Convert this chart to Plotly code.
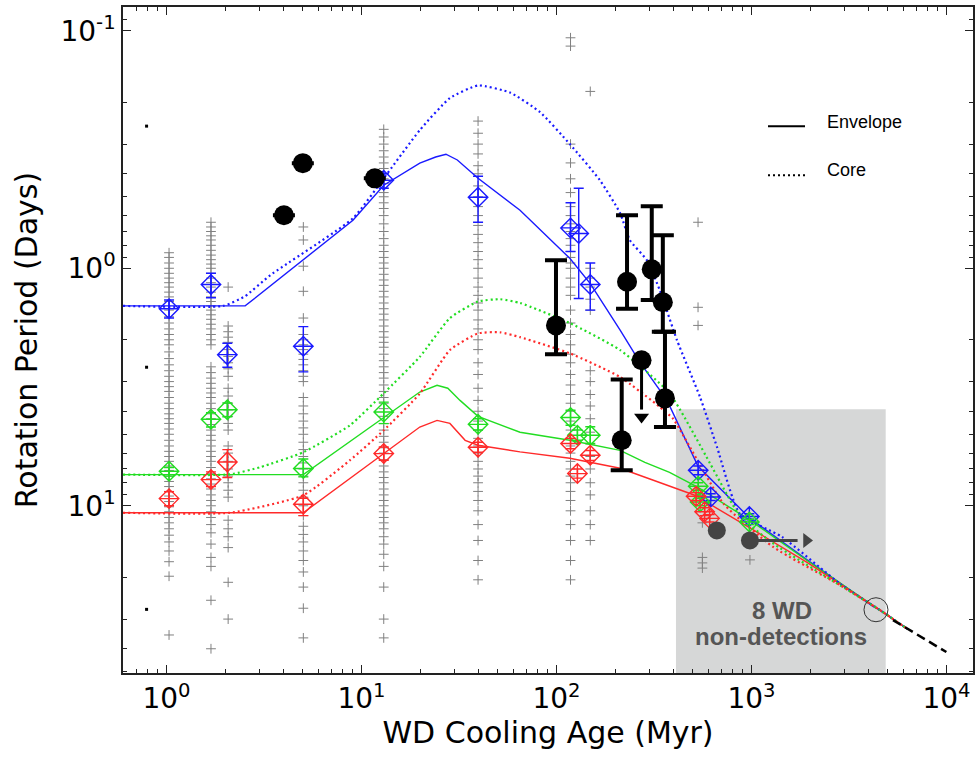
import plotly.graph_objects as go
import numpy as np

# ---------------- data ----------------
# model curves: x = WD cooling age (Myr), P = rotation period (days)
blue_env_x = [0.598, 2.53, 9.04, 13.0, 19.9, 24.0, 27.1, 31.0, 39.6, 65.0, 117, 149, 212, 268, 369, 532, 982, 1928, 4200, 4560, 6300]
blue_env_p = [1.44, 1.44, 0.628, 0.447, 0.361, 0.340, 0.331, 0.350, 0.418, 0.570, 0.908, 1.16, 1.82, 2.49, 3.60, 6.82, 11.3, 16.9, 26.5, 27.5, 33.0]
blue_core_x = [0.598, 1.95, 2.53, 3.40, 9.04, 13.0, 19.9, 28.4, 39.6, 57.8, 82.3, 117, 167, 212, 238, 291, 339, 415, 545, 666, 870, 1430, 2845, 4560, 6300]
blue_core_p = [1.44, 1.44, 1.31, 1.07, 0.616, 0.418, 0.262, 0.192, 0.170, 0.182, 0.220, 0.300, 0.426, 0.586, 0.762, 0.925, 1.24, 2.01, 3.49, 5.67, 10.8, 13.5, 21.3, 27.5, 33.0]
green_env_x = [0.598, 5.03, 19.9, 24.4, 27.7, 32.0, 39.6, 65.0, 117, 212, 284, 380, 532, 982, 1928, 4560, 6300]
green_env_p = [7.39, 7.39, 3.32, 3.11, 3.20, 3.60, 4.20, 4.90, 5.30, 5.84, 6.56, 7.23, 8.36, 11.5, 17.0, 27.5, 33.0]
green_core_x = [0.598, 2.12, 3.02, 5.03, 8.73, 13.0, 19.9, 28.4, 39.6, 51.3, 65.0, 117, 212, 380, 613, 870, 1290, 2845, 4560, 6300]
green_core_p = [7.39, 7.37, 6.88, 5.95, 4.58, 3.36, 2.36, 1.62, 1.38, 1.35, 1.40, 1.70, 2.21, 3.36, 6.63, 11.0, 14.4, 21.6, 27.5, 33.0]
red_env_x = [0.598, 5.03, 19.9, 24.4, 28.4, 34.0, 39.6, 65.0, 117, 212, 314, 512, 982, 1928, 4560, 6300]
red_env_p = [10.7, 10.7, 4.66, 4.37, 4.50, 5.30, 5.56, 5.93, 6.31, 6.95, 7.81, 9.03, 12.4, 17.3, 27.5, 33.0]
red_core_x = [0.598, 2.12, 5.03, 8.73, 13.0, 19.9, 28.4, 39.6, 51.3, 65.0, 117, 212, 339, 396, 718, 1290, 2845, 4560, 6300]
red_core_p = [10.7, 10.7, 9.03, 6.43, 4.81, 3.37, 2.21, 1.88, 1.86, 1.95, 2.28, 2.87, 3.84, 4.30, 9.79, 14.9, 21.6, 27.5, 33.0]
ext_x = [5320, 9990]
ext_p = [30.3, 41.3]

# cluster medians (diamonds) with error ranges
blue_pt_x = [1.03, 1.69, 2.05, 5.03, 13.0, 39.6, 118, 130, 149, 533, 618, 975]
blue_pt_p = [1.48, 1.17, 2.31, 2.13, 0.426, 0.502, 0.676, 0.714, 1.17, 7.09, 9.18, 11.1]
blue_pt_lo = [1.36, 1.05, 2.07, 1.76, 0.400, 0.41, 0.53, 0.46, 0.95, 6.8, 8.9, 10.8]
blue_pt_hi = [1.62, 1.33, 2.61, 2.73, 0.460, 0.64, 0.85, 1.34, 1.50, 7.4, 9.5, 11.4]
green_pt_x = [1.03, 1.69, 2.05, 5.03, 13.0, 39.6, 118, 128, 149, 533, 545, 975]
green_pt_p = [7.16, 4.32, 3.94, 6.97, 4.03, 4.54, 4.25, 5.05, 5.05, 8.28, 9.64, 11.7]
green_pt_lo = [6.90, 4.06, 3.69, 6.35, 3.66, 4.30, 3.96, 4.80, 4.65, 8.0, 9.3, 11.4]
green_pt_hi = [7.50, 4.66, 4.22, 7.56, 4.51, 4.80, 4.58, 5.30, 5.46, 8.6, 10.0, 12.0]
red_pt_x = [1.03, 1.69, 2.05, 5.03, 13.0, 39.6, 118, 128, 149, 520, 575, 610]
red_pt_p = [9.33, 7.76, 6.54, 9.86, 6.03, 5.67, 5.47, 7.32, 6.13, 9.12, 10.6, 11.3]
red_pt_lo = [8.73, 7.20, 5.80, 9.30, 5.66, 5.40, 5.20, 7.00, 5.85, 8.8, 10.2, 10.9]
red_pt_hi = [10.0, 8.30, 7.60, 11.0, 6.43, 5.95, 5.75, 7.65, 6.45, 9.5, 11.0, 11.7]

# individual cluster stars (grey crosses)
star_cols_x = [1.03, 1.69, 2.07, 5.03, 13.0, 39.6, 118, 149]
star_cols_p = [
    [0.86, 0.9, 0.95, 1.0, 1.05, 1.1, 1.15, 1.2, 1.26, 1.32, 1.38, 1.5, 1.6, 1.7, 1.8, 1.9, 2.0, 2.1, 2.25, 2.4, 2.55, 2.7, 2.85, 3.0, 3.15, 3.3, 3.5, 3.7, 3.9, 4.1, 4.3, 4.5, 4.75, 5.0, 5.3, 5.6, 5.9, 6.2, 6.5, 6.8, 7.1, 7.5, 7.9, 8.3, 8.7, 9.1, 9.6, 10.1, 10.6, 11.2, 11.8, 12.5, 13.3, 14.2, 15.5, 17.2, 19.8, 35],
    [0.64, 0.67, 0.70, 0.73, 0.76, 0.80, 0.84, 0.88, 0.92, 0.96, 1.0, 1.05, 1.1, 1.15, 1.2, 1.26, 1.32, 1.38, 1.44, 1.5, 1.57, 1.64, 1.72, 1.8, 1.9, 2.0, 2.1, 2.6, 2.75, 2.9, 3.05, 3.2, 3.35, 3.5, 3.7, 3.9, 4.1, 4.3, 4.55, 4.8, 5.05, 5.3, 5.6, 5.9, 6.2, 6.5, 6.9, 7.3, 7.7, 8.1, 8.5, 9.0, 9.5, 10.0, 10.6, 11.2, 12.0, 13.0, 14.5, 16.5, 18.0, 25, 40],
    [1.2, 1.75, 1.85, 1.95, 2.05, 2.2, 2.35, 2.5, 2.65, 2.85, 3.2, 3.45, 3.7, 3.95, 4.2, 4.5, 4.8, 5.6, 6.0, 6.5, 7.0, 7.5, 8.0, 8.6, 9.2, 11.5, 12.5, 13.5, 15, 21, 30],
    [0.67, 0.76, 0.98, 1.25, 1.62, 1.9, 2.0, 2.1, 2.2, 2.3, 2.42, 2.55, 2.7, 2.85, 3.0, 3.5, 3.8, 4.1, 4.4, 4.7, 5.0, 5.4, 5.8, 6.2, 6.6, 7.0, 7.5, 8.0, 8.6, 9.2, 10.0, 11.0, 12.2, 13.2, 14.2, 15.5, 17, 19, 22, 27, 36],
    [0.26, 0.28, 0.30, 0.32, 0.34, 0.36, 0.38, 0.40, 0.42, 0.44, 0.46, 0.48, 0.50, 0.53, 0.56, 0.6, 0.65, 0.7, 0.75, 0.8, 0.85, 0.9, 0.95, 1.0, 1.06, 1.12, 1.18, 1.25, 1.32, 1.4, 1.48, 1.56, 1.65, 1.75, 1.85, 1.95, 2.05, 2.15, 2.3, 2.45, 2.6, 2.75, 2.9, 3.1, 3.3, 3.5, 3.7, 3.9, 4.2, 4.5, 4.8, 5.1, 5.4, 5.7, 6.0, 6.4, 6.8, 7.2, 7.6, 8.0, 8.5, 9.0, 9.5, 10.0, 10.6, 11.2, 11.8, 12.5, 13.5, 14.5, 16, 18, 22, 30, 36],
    [0.24, 0.27, 0.30, 0.33, 0.37, 0.40, 0.45, 0.50, 0.55, 0.60, 0.66, 0.72, 0.78, 0.85, 0.92, 1.0, 1.1, 1.2, 1.3, 1.4, 1.5, 1.65, 1.8, 2.0, 2.2, 2.5, 2.8, 3.2, 3.6, 4.0, 4.4, 4.8, 5.2, 5.6, 6.0, 6.5, 7.0, 7.5, 8.0, 8.7, 9.5, 10.5, 12, 14, 17, 20.5],
    [0.107, 0.116, 0.30, 0.36, 0.42, 0.48, 0.55, 0.6, 0.65, 0.7, 0.75, 0.8, 0.85, 0.9, 0.95, 1.0, 1.1, 1.2, 1.3, 1.5, 1.7, 1.9, 2.1, 2.3, 2.5, 2.8, 3.1, 3.4, 3.7, 4.0, 4.4, 4.8, 5.2, 5.6, 6.0, 6.5, 7.0, 7.5, 8.0, 8.7, 9.5, 10.5, 12, 14, 17, 20.5],
    [0.18, 1.0, 1.1, 1.2, 1.35, 1.5, 2.7, 3.0, 3.4, 3.8, 4.3, 4.9, 5.5, 6.2, 7.0, 8.0, 9.0, 10.5, 12, 14],
]
extra_star_x = [532, 532, 532, 560, 560, 560, 560, 982]
extra_star_p = [0.64, 1.46, 1.74, 11.8, 16.5, 17.4, 18.3, 16.9]

# white dwarfs (black circles)
wd_x = [4.0, 5.0, 11.7, 99.4, 230, 308, 351, 360, 216]
wd_p = [0.598, 0.361, 0.418, 1.74, 1.14, 1.01, 1.39, 3.53, 5.30]
wd_lo = [None, None, None, 0.925, 0.598, 0.548, 0.726, 1.85, 2.94]
wd_hi = [None, None, None, 2.30, 1.48, 1.36, 1.85, 4.66, 7.09]
wd_lim_x = [273]
wd_lim_p = [2.44]
wd_lim_tip = [4.23]
wd_old_x = [664, 982]
wd_old_p = [12.7, 14.0]
wd_old_arrow_tip = 1915
sun_x = [4350]
sun_p = [27.4]
odd_x = [0.79, 0.79, 0.79]
odd_p = [0.252, 2.61, 27.3]

box_x = [410, 4880]
box_p_top = 3.92

BLUE, GREEN, RED = "#1a1aff", "#22dd22", "#ff2a2a"

fig = go.Figure()

# grey box (non-detections)
fig.add_trace(go.Scatter(x=[box_x[0], box_x[1], box_x[1], box_x[0], box_x[0]],
                         y=[box_p_top, box_p_top, 80, 80, box_p_top], mode="lines",
                         fill="toself", fillcolor="#d6d7d7", line=dict(width=0),
                         hoverinfo="skip", showlegend=False))

# grey crosses
sx, sy = [], []
for cx, plist in zip(star_cols_x, star_cols_p):
    sx += [cx] * len(plist)
    sy += plist
sx += extra_star_x
sy += extra_star_p
fig.add_trace(go.Scatter(x=sx, y=sy, mode="markers",
                         marker=dict(symbol="cross-thin", size=7, line=dict(color="#808080", width=1)),
                         showlegend=False))

# model curves
for xs, ps, col in [(blue_env_x, blue_env_p, BLUE), (green_env_x, green_env_p, GREEN), (red_env_x, red_env_p, RED)]:
    fig.add_trace(go.Scatter(x=xs, y=ps, mode="lines", line=dict(color=col, width=1.4), showlegend=False))
for xs, ps, col in [(blue_core_x, blue_core_p, BLUE), (green_core_x, green_core_p, GREEN), (red_core_x, red_core_p, RED)]:
    fig.add_trace(go.Scatter(x=xs, y=ps, mode="lines", line=dict(color=col, width=2.2, dash="2px,3px", shape="spline", smoothing=0.5), showlegend=False))
fig.add_trace(go.Scatter(x=ext_x, y=ext_p, mode="lines", line=dict(color="black", width=2.5, dash="9px,5px"), showlegend=False))

# cluster diamonds
for xs, ps, lo, hi, col in [(blue_pt_x, blue_pt_p, blue_pt_lo, blue_pt_hi, BLUE),
                            (green_pt_x, green_pt_p, green_pt_lo, green_pt_hi, GREEN),
                            (red_pt_x, red_pt_p, red_pt_lo, red_pt_hi, RED)]:
    fig.add_trace(go.Scatter(x=xs, y=ps, mode="markers",
                             marker=dict(symbol="diamond-cross-open", size=15, color=col, line=dict(color=col, width=1.4)),
                             error_y=dict(type="data", symmetric=False,
                                          array=[h - p for h, p in zip(hi, ps)],
                                          arrayminus=[p - l for l, p in zip(lo, ps)],
                                          color=col, thickness=1.4, width=5),
                             showlegend=False))

# white dwarfs
fig.add_trace(go.Scatter(x=wd_x, y=wd_p, mode="markers",
                         marker=dict(symbol="circle", size=20, color="black"),
                         error_y=dict(type="data", symmetric=False,
                                      array=[(h - p) if h else 0 for h, p in zip(wd_hi, wd_p)],
                                      arrayminus=[(p - l) if l else 0 for l, p in zip(wd_lo, wd_p)],
                                      color="black", thickness=4, width=11),
                         showlegend=False))
# upper-limit arrow
fig.add_trace(go.Scatter(x=wd_lim_x * 2, y=[wd_lim_p[0], wd_lim_tip[0] * 0.93], mode="lines",
                         line=dict(color="black", width=3), showlegend=False))
fig.add_trace(go.Scatter(x=wd_lim_x, y=wd_lim_tip, mode="markers",
                         marker=dict(symbol="triangle-down", size=13, color="black"), showlegend=False))
fig.add_trace(go.Scatter(x=wd_lim_x, y=wd_lim_p, mode="markers",
                         marker=dict(symbol="circle", size=20, color="black"), showlegend=False))
# old WDs
fig.add_trace(go.Scatter(x=[wd_old_x[1], wd_old_arrow_tip * 0.9], y=[wd_old_p[1]] * 2, mode="lines",
                         line=dict(color="#444444", width=3), showlegend=False))
fig.add_trace(go.Scatter(x=[wd_old_arrow_tip], y=[wd_old_p[1]], mode="markers",
                         marker=dict(symbol="triangle-right", size=13, color="#444444"), showlegend=False))
fig.add_trace(go.Scatter(x=wd_old_x, y=wd_old_p, mode="markers",
                         marker=dict(symbol="circle", size=18, color="#444444"), showlegend=False))
# sun
fig.add_trace(go.Scatter(x=sun_x, y=sun_p, mode="markers",
                         marker=dict(symbol="circle-open", size=24, color="#333", line=dict(width=1)), showlegend=False))
fig.add_trace(go.Scatter(x=odd_x, y=odd_p, mode="markers",
                         marker=dict(symbol="square", size=3, color="black"), showlegend=False))

# legend (drawn)
L, W = 123, 850
T, H = 6.7, 666
def px(xp):
    return (xp - L) / W
def py(yp):
    return 1 - (yp - T) / H
fig.add_shape(type="line", xref="paper", yref="paper", x0=px(768), x1=px(805), y0=py(126), y1=py(126),
              line=dict(color="black", width=2))
fig.add_shape(type="line", xref="paper", yref="paper", x0=px(768), x1=px(805), y0=py(175), y1=py(175),
              line=dict(color="black", width=2, dash="2px,3px"))
fig.add_annotation(xref="paper", yref="paper", x=px(825), y=py(122), text="Envelope", showarrow=False,
                   xanchor="left", yanchor="middle", font=dict(family="Liberation Sans", size=18, color="black"))
fig.add_annotation(xref="paper", yref="paper", x=px(825), y=py(170), text="Core", showarrow=False,
                   xanchor="left", yanchor="middle", font=dict(family="Liberation Sans", size=18, color="black"))
fig.add_annotation(xref="paper", yref="paper", x=px(782), y=py(610), text="<b>8 WD</b>", showarrow=False,
                   xanchor="center", yanchor="middle", font=dict(family="Liberation Sans", size=24, color="#555555"))
fig.add_annotation(xref="paper", yref="paper", x=px(781), y=py(636), text="<b>non-detections</b>", showarrow=False,
                   xanchor="center", yanchor="middle", font=dict(family="Liberation Sans", size=24, color="#555555"))

x_minor = [m * 10 ** e for e in range(-1, 5) for m in range(2, 10)]
y_minor = [m * 10 ** e for e in range(-2, 2) for m in range(2, 10)]

axis_common = dict(type="log", showgrid=False, zeroline=False, showline=True, linecolor="#222", linewidth=1.5,
                   mirror="ticks", ticks="inside", ticklen=8, tickwidth=1, tickcolor="#222", automargin=False,
                   tickfont=dict(family="DejaVu Sans", size=28, color="black"), layer="above traces")
fig.update_xaxes(**axis_common, range=[np.log10(0.598), np.log10(13680)],
                 tickvals=[1, 10, 100, 1000, 10000],
                 ticktext=["10<sup>0</sup>", "10<sup>1</sup>", "10<sup>2</sup>", "10<sup>3</sup>", "10<sup>4</sup>"],
                 minor=dict(tickvals=x_minor, ticks="inside", ticklen=4, tickcolor="#222", tickwidth=1),
                 title=dict(text="WD Cooling Age (Myr)", font=dict(family="DejaVu Sans", size=30, color="black"), standoff=6))
fig.update_yaxes(**axis_common, range=[np.log10(50.6), np.log10(0.0794)],
                 tickvals=[0.1, 1, 10],
                 ticktext=["10<sup>-1</sup>", "10<sup>0</sup>", "10<sup>1</sup>"],
                 minor=dict(tickvals=y_minor, ticks="inside", ticklen=4, tickcolor="#222", tickwidth=1),
                 title=dict(text="Rotation Period (Days)", font=dict(family="DejaVu Sans", size=30, color="black"), standoff=14))

fig.update_layout(width=979, height=757, margin=dict(l=123, r=6, t=7, b=84),
                  plot_bgcolor="white", paper_bgcolor="white", showlegend=False)

fig.write_html("out.html", post_script="document.body.style.margin='0px';",
               config={"displayModeBar": False})
